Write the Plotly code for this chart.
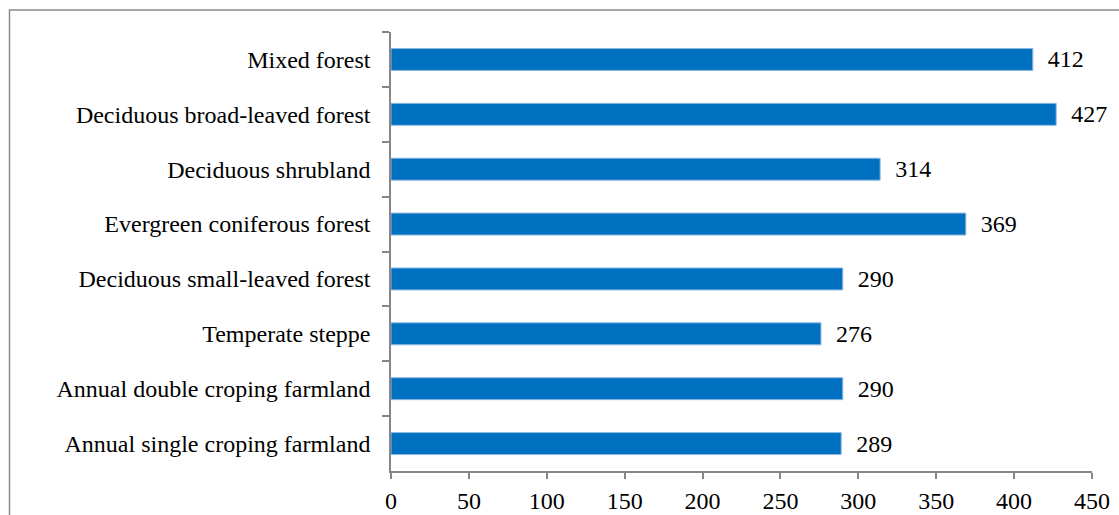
import plotly.graph_objects as go

categories = [
    "Mixed forest",
    "Deciduous broad-leaved forest",
    "Deciduous shrubland",
    "Evergreen coniferous forest",
    "Deciduous small-leaved forest",
    "Temperate steppe",
    "Annual double croping farmland",
    "Annual single croping farmland",
]
values = [412, 427, 314, 369, 290, 276, 290, 289]
x_ticks = [0, 50, 100, 150, 200, 250, 300, 350, 400, 450]

W, H = 1119, 515
ML, MR, MT, MB = 391, 27, 32, 44
pw, ph = W - ML - MR, H - MT - MB
FS = 24

fig = go.Figure(
    go.Bar(
        x=values,
        y=categories,
        orientation="h",
        width=0.4,
        marker=dict(color="#0070C0", line=dict(color="#8DB8E2", width=1)),
        text=values,
        texttemplate="\u00a0\u00a0%{x}",
        textposition="outside",
        textfont=dict(family="Liberation Serif", size=FS, color="#000000"),
        constraintext="none",
        cliponaxis=False,
    )
)

def px_to_paper_x(px):
    return (px - ML) / pw

def py_to_paper_y(py):
    return 1 - (py - MT) / ph

fig.add_shape(
    type="rect",
    xref="paper", yref="paper",
    x0=px_to_paper_x(9.5), x1=px_to_paper_x(1130),
    y0=py_to_paper_y(530), y1=py_to_paper_y(10),
    line=dict(color="#8C8C8C", width=1.5),
    fillcolor="rgba(0,0,0,0)",
    layer="below",
)

fig.update_layout(
    width=W, height=H,
    margin=dict(l=ML, r=MR, t=MT, b=MB, autoexpand=False),
    paper_bgcolor="white",
    plot_bgcolor="white",
    font=dict(family="Liberation Serif", size=FS, color="#000000"),
    showlegend=False,
    xaxis=dict(
        range=[0, 450],
        automargin=False,
        tickvals=x_ticks,
        ticktext=[str(t) for t in x_ticks],
        showgrid=False,
        zeroline=False,
        showline=True,
        linecolor="#868686",
        linewidth=1.5,
        ticks="outside",
        ticklen=6,
        tickcolor="#868686",
        tickwidth=1.5,
        tickfont=dict(family="Liberation Serif", size=FS, color="#000000"),
        ticklabelstandoff=1,
    ),
    yaxis=dict(
        autorange="reversed",
        automargin=False,
        showgrid=False,
        zeroline=False,
        showline=True,
        linecolor="#868686",
        linewidth=1.5,
        ticks="outside",
        tickson="boundaries",
        ticklen=7,
        tickcolor="#868686",
        tickwidth=1.5,
        tickfont=dict(family="Liberation Serif", size=FS, color="#000000"),
        ticklabelstandoff=14,
    ),
)

fig.write_html("out.html")
